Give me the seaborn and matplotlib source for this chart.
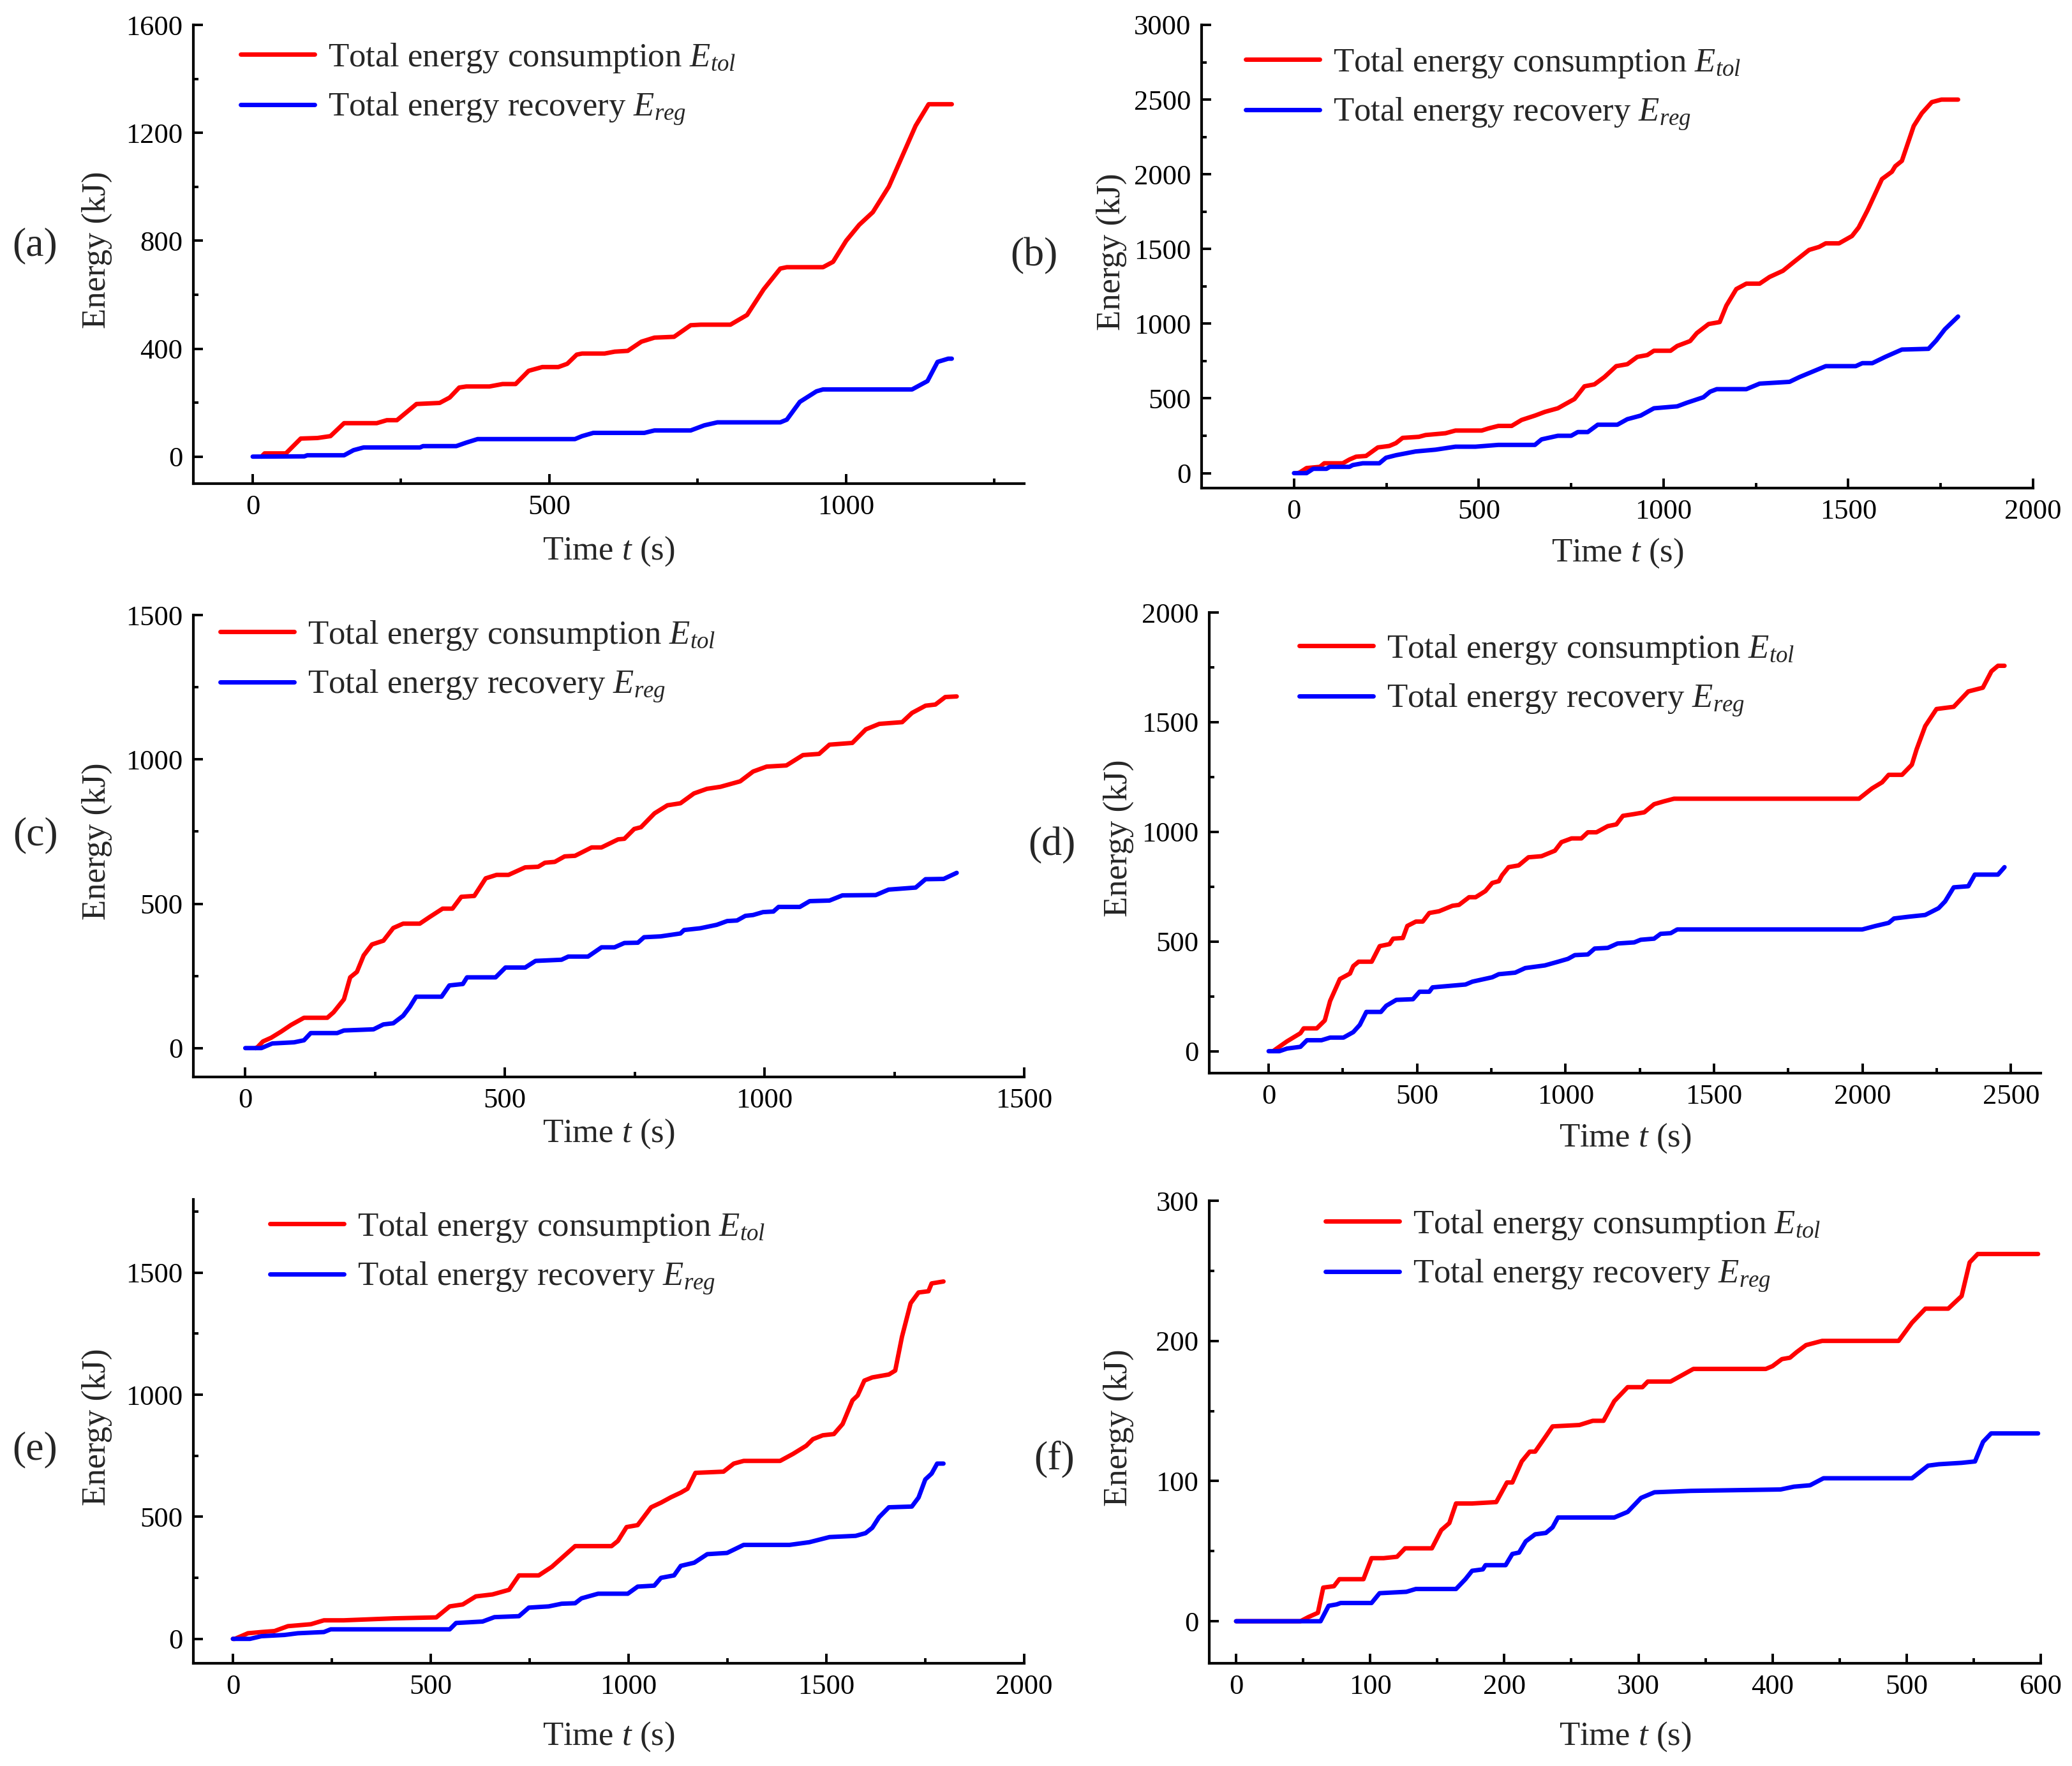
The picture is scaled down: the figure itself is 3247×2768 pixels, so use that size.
import matplotlib
matplotlib.use("Agg")
import matplotlib.pyplot as plt
from matplotlib.ticker import MultipleLocator
import seaborn as sns
import pandas as pd

# ---------------- data ----------------
# (a)
t_a_tol = [15, 20, 56, 81, 109, 131, 154, 209, 226, 243, 276, 315, 332, 348, 360, 399, 421, 443, 465, 488, 515, 530, 546, 555, 593, 610, 632, 655, 677, 710, 738, 755, 805, 833, 861, 889, 900, 961, 978, 1000, 1022, 1045, 1072, 1117, 1139, 1178]
e_a_tol = [0, 12, 12, 67, 69, 76, 124, 124, 135, 135, 195, 199, 219, 256, 260, 260, 269, 269, 318, 332, 332, 344, 378, 382, 382, 389, 392, 426, 441, 444, 487, 489, 489, 525, 620, 697, 702, 702, 722, 800, 859, 906, 1001, 1226, 1306, 1306]
t_a_reg = [0, 87, 92, 154, 170, 187, 282, 287, 343, 360, 379, 543, 555, 574, 660, 677, 738, 761, 783, 889, 900, 922, 950, 961, 1111, 1137, 1154, 1172, 1178]
e_a_reg = [0, 1, 5, 5, 24, 34, 34, 39, 39, 52, 65, 65, 76, 88, 88, 97, 97, 116, 127, 127, 137, 203, 242, 249, 249, 280, 351, 363, 363]

# (b)
t_b_tol = [10, 16, 34, 70, 82, 132, 150, 168, 195, 227, 258, 276, 294, 338, 356, 410, 437, 508, 526, 553, 589, 616, 652, 679, 714, 732, 759, 786, 813, 840, 872, 902, 929, 956, 974, 1019, 1037, 1072, 1090, 1122, 1152, 1170, 1197, 1224, 1260, 1287, 1323, 1350, 1394, 1421, 1439, 1475, 1510, 1528, 1552, 1591, 1618, 1627, 1645, 1677, 1699, 1726, 1752, 1797]
e_b_tol = [0, 5, 34, 42, 66, 66, 91, 110, 115, 172, 182, 201, 236, 243, 255, 267, 285, 285, 299, 316, 316, 356, 385, 410, 434, 459, 496, 581, 594, 643, 716, 729, 778, 790, 819, 819, 851, 884, 937, 998, 1011, 1121, 1232, 1268, 1268, 1313, 1354, 1408, 1494, 1514, 1538, 1538, 1587, 1644, 1759, 1968, 2017, 2054, 2090, 2323, 2409, 2483, 2500, 2500]
t_b_reg = [0, 34, 52, 88, 97, 150, 159, 186, 231, 249, 276, 329, 383, 437, 491, 553, 652, 670, 714, 750, 768, 795, 822, 875, 902, 938, 974, 1037, 1063, 1108, 1126, 1144, 1224, 1260, 1341, 1368, 1404, 1439, 1520, 1538, 1565, 1600, 1645, 1717, 1738, 1761, 1797]
e_b_reg = [0, 0, 29, 29, 42, 42, 54, 66, 66, 103, 120, 145, 157, 177, 177, 189, 189, 226, 250, 250, 275, 275, 324, 324, 361, 385, 434, 447, 471, 508, 545, 562, 562, 599, 611, 643, 680, 716, 716, 736, 736, 778, 827, 832, 888, 962, 1048]

# (c)
t_c_tol = [20, 24, 34, 50, 69, 88, 113, 158, 170, 190, 202, 215, 228, 244, 266, 285, 304, 336, 355, 380, 399, 416, 441, 463, 484, 507, 539, 564, 577, 596, 615, 635, 667, 686, 718, 730, 749, 762, 788, 813, 838, 864, 889, 915, 953, 978, 1004, 1042, 1074, 1105, 1125, 1169, 1195, 1221, 1265, 1284, 1310, 1329, 1348, 1370]
e_c_tol = [0, 4, 23, 36, 57, 80, 105, 105, 124, 169, 245, 264, 321, 359, 372, 416, 431, 431, 454, 483, 483, 524, 527, 588, 600, 600, 626, 628, 642, 645, 664, 666, 695, 695, 723, 725, 759, 765, 813, 841, 848, 882, 898, 905, 924, 958, 975, 979, 1015, 1019, 1051, 1057, 1104, 1123, 1129, 1161, 1186, 1190, 1216, 1218]
t_c_reg = [0, 31, 52, 94, 113, 126, 177, 190, 247, 266, 285, 304, 317, 329, 378, 393, 419, 427, 482, 501, 539, 559, 609, 622, 660, 686, 711, 730, 756, 768, 800, 838, 845, 876, 908, 928, 947, 963, 978, 997, 1017, 1027, 1068, 1087, 1125, 1150, 1214, 1239, 1291, 1310, 1345, 1370]
e_c_reg = [0, 0, 16, 20, 27, 52, 52, 61, 65, 82, 86, 112, 143, 178, 178, 217, 222, 245, 245, 279, 279, 302, 306, 317, 317, 349, 349, 364, 365, 384, 387, 397, 409, 415, 427, 440, 442, 458, 461, 471, 473, 489, 489, 509, 511, 529, 530, 549, 556, 585, 586, 607]

# (d)
t_d_tol = [15, 22, 62, 107, 118, 162, 189, 207, 240, 274, 285, 303, 347, 374, 407, 419, 452, 467, 496, 519, 541, 574, 619, 641, 675, 697, 730, 753, 775, 786, 808, 842, 875, 919, 964, 986, 1020, 1053, 1075, 1104, 1142, 1171, 1193, 1231, 1265, 1298, 1331, 1365, 1988, 2032, 2066, 2088, 2133, 2166, 2182, 2211, 2249, 2307, 2356, 2405, 2434, 2456, 2478]
e_d_tol = [0, 7, 45, 82, 104, 104, 140, 229, 329, 354, 388, 408, 408, 479, 488, 513, 516, 571, 591, 591, 630, 638, 663, 667, 702, 702, 730, 767, 775, 802, 839, 847, 884, 889, 914, 953, 970, 970, 998, 998, 1026, 1034, 1073, 1081, 1089, 1126, 1139, 1151, 1151, 1198, 1226, 1260, 1260, 1306, 1376, 1482, 1560, 1570, 1640, 1657, 1732, 1757, 1757]
t_d_reg = [0, 36, 62, 107, 129, 178, 207, 252, 285, 307, 329, 378, 396, 430, 486, 508, 541, 552, 663, 686, 753, 775, 830, 864, 930, 975, 1008, 1031, 1075, 1098, 1142, 1175, 1231, 1253, 1298, 1320, 1354, 1376, 1999, 2044, 2088, 2106, 2155, 2211, 2256, 2278, 2307, 2356, 2378, 2456, 2478]
e_d_reg = [0, 0, 12, 20, 50, 50, 62, 62, 87, 120, 179, 179, 207, 234, 237, 271, 271, 291, 304, 317, 337, 351, 358, 379, 391, 408, 421, 438, 441, 468, 471, 491, 496, 508, 513, 535, 538, 555, 555, 571, 585, 605, 613, 621, 652, 683, 747, 752, 805, 805, 839]

# (e)
t_e_tol = [0, 5, 38, 72, 105, 139, 197, 230, 280, 406, 514, 548, 581, 614, 656, 698, 723, 773, 806, 840, 865, 957, 973, 995, 1023, 1057, 1082, 1107, 1132, 1149, 1169, 1240, 1266, 1291, 1383, 1416, 1449, 1466, 1491, 1519, 1541, 1566, 1579, 1596, 1616, 1658, 1674, 1691, 1713, 1733, 1758, 1766, 1796]
e_e_tol = [0, 0, 23, 28, 32, 52, 60, 76, 76, 84, 88, 133, 141, 174, 182, 201, 260, 260, 295, 344, 380, 380, 401, 458, 466, 539, 558, 580, 599, 615, 680, 685, 718, 729, 729, 758, 791, 818, 834, 839, 880, 977, 997, 1058, 1071, 1083, 1099, 1237, 1375, 1419, 1424, 1456, 1464]
t_e_reg = [0, 43, 72, 130, 164, 230, 247, 548, 564, 631, 661, 723, 748, 798, 831, 865, 881, 923, 998, 1023, 1065, 1082, 1115, 1132, 1166, 1199, 1249, 1291, 1407, 1457, 1508, 1574, 1599, 1616, 1633, 1658, 1716, 1733, 1750, 1766, 1780, 1796]
e_e_reg = [0, 0, 11, 16, 23, 28, 39, 39, 65, 71, 89, 93, 128, 133, 144, 146, 166, 185, 185, 214, 218, 250, 260, 299, 312, 347, 352, 385, 385, 396, 417, 422, 433, 455, 498, 539, 542, 579, 653, 677, 718, 718]

# (f)
t_f_tol = [0, 48, 54, 61, 65, 73, 77, 95, 101, 110, 120, 126, 146, 153, 159, 164, 176, 194, 202, 206, 213, 219, 223, 231, 236, 256, 266, 274, 282, 292, 303, 307, 324, 341, 395, 400, 407, 413, 418, 425, 437, 494, 504, 514, 531, 541, 547, 553, 598]
e_f_tol = [0, 0, 3, 6, 24, 25, 30, 30, 45, 45, 46, 52, 52, 65, 70, 84, 84, 85, 99, 99, 114, 121, 121, 132, 139, 140, 143, 143, 157, 167, 167, 171, 171, 180, 180, 182, 187, 188, 192, 197, 200, 200, 213, 223, 223, 232, 256, 262, 262]
t_f_reg = [0, 63, 69, 75, 78, 101, 107, 127, 134, 164, 171, 176, 184, 186, 201, 206, 211, 216, 223, 231, 236, 240, 282, 292, 302, 312, 339, 406, 416, 428, 438, 504, 516, 524, 541, 551, 557, 563, 598]
e_f_reg = [0, 0, 11, 12, 13, 13, 20, 21, 23, 23, 30, 36, 37, 40, 40, 48, 49, 57, 62, 63, 67, 74, 74, 78, 88, 92, 93, 94, 96, 97, 102, 102, 111, 112, 113, 114, 128, 134, 134]

panel_names = ["(a)", "(b)", "(c)", "(d)", "(e)", "(f)"]
label_tol = "Total energy consumption $E_{tol}$"
label_reg = "Total energy recovery $E_{reg}$"
x_label = "Time $t$ (s)"
y_label = "Energy (kJ)"

series = {
    "(a)": (t_a_tol, e_a_tol, t_a_reg, e_a_reg),
    "(b)": (t_b_tol, e_b_tol, t_b_reg, e_b_reg),
    "(c)": (t_c_tol, e_c_tol, t_c_reg, e_c_reg),
    "(d)": (t_d_tol, e_d_tol, t_d_reg, e_d_reg),
    "(e)": (t_e_tol, e_e_tol, t_e_reg, e_e_reg),
    "(f)": (t_f_tol, e_f_tol, t_f_reg, e_f_reg),
}

# ---------------- style / layout ----------------
sns.set_style("ticks")
plt.rcParams["font.family"] = ["Liberation Serif", "DejaVu Serif"]
plt.rcParams["mathtext.fontset"] = "custom"
plt.rcParams["mathtext.rm"] = "Liberation Serif"
plt.rcParams["mathtext.it"] = "Liberation Serif:italic"

W, H = 3248, 2768
DPI = 200
fig = plt.figure(figsize=(W / DPI, H / DPI), dpi=DPI)

# axes boxes in pixels: left, top, right, bottom
boxes = {
    "(a)": (303, 39, 1605, 758),
    "(b)": (1883, 39, 3186, 765),
    "(c)": (303, 964, 1605, 1688),
    "(d)": (1895, 960, 3198, 1682),
    "(e)": (303, 1880, 1605, 2607),
    "(f)": (1895, 1882, 3198, 2607),
}
limits = {
    "(a)": ((-100, 1300), (-100, 1600), 500, 250, 400, 200),
    "(b)": ((-250, 2000), (-100, 3000), 500, 250, 500, 250),
    "(c)": ((-100, 1500), (-100, 1500), 500, 250, 500, 250),
    "(d)": ((-200, 2600), (-100, 2000), 500, 250, 500, 250),
    "(e)": ((-100, 2000), (-100, 1800), 500, 250, 500, 250),
    "(f)": ((-20, 600), (-30, 300), 100, 50, 100, 50),
}
legend_pos = {  # handle start x, middle between rows y (pixels)
    "(a)": (377, 132),
    "(b)": (1952, 140),
    "(c)": (345, 1037),
    "(d)": (2036, 1059),
    "(e)": (423, 1965),
    "(f)": (2077, 1961),
}
letter_pos = {
    "(a)": (55, 385), "(b)": (1620, 401), "(c)": (56, 1309),
    "(d)": (1648, 1325), "(e)": (55, 2272), "(f)": (1652, 2287),
}
xlabel_center = {"(a)": 869, "(b)": 872, "(c)": 1782, "(d)": 1789, "(e)": 2727, "(f)": 2727}
ylabel_right = {"(a)": 176, "(b)": 1766, "(c)": 176, "(d)": 1777, "(e)": 176, "(f)": 1777}

LW = 2.5
for name in panel_names:
    l, t, r, b = boxes[name]
    ax = fig.add_axes([l / W, 1 - b / H, (r - l) / W, (b - t) / H])
    t1, e1, t2, e2 = series[name]
    df1 = pd.DataFrame({"t": t1, "E": e1})
    df2 = pd.DataFrame({"t": t2, "E": e2})
    sns.lineplot(data=df1, x="t", y="E", ax=ax, color="#ff0000", lw=LW,
                 label=label_tol, estimator=None, sort=False)
    sns.lineplot(data=df2, x="t", y="E", ax=ax, color="#0000ff", lw=LW,
                 label=label_reg, estimator=None, sort=False)
    (xl, yl, xmaj, xmin, ymaj, ymin) = limits[name]
    ax.set_xlim(*xl)
    ax.set_ylim(*yl)
    ax.xaxis.set_major_locator(MultipleLocator(xmaj))
    ax.xaxis.set_minor_locator(MultipleLocator(xmin))
    ax.yaxis.set_major_locator(MultipleLocator(ymaj))
    ax.yaxis.set_minor_locator(MultipleLocator(ymin))
    for s in ["top", "right"]:
        ax.spines[s].set_visible(False)
    for s in ["left", "bottom"]:
        ax.spines[s].set_linewidth(1.5)
        ax.spines[s].set_color("black")
    ax.tick_params(which="major", direction="in", length=5.5, width=1.4,
                   labelsize=16, pad=6, colors="black")
    ax.tick_params(which="minor", direction="in", length=2.8, width=1.4, colors="black")

    ax.set_xlabel(x_label, fontsize=19)
    ax.set_ylabel(y_label, fontsize=19)
    hpx = b - t
    wpx = r - l
    ax.xaxis.set_label_coords(0.5, -(xlabel_center[name] - 31 - b) / hpx)
    ax.yaxis.set_label_coords((ylabel_right[name] - l) / wpx, 0.51)

    hx, hy = legend_pos[name]
    ax.legend(loc="center left", bbox_to_anchor=(hx / W, 1 - hy / H),
              bbox_transform=fig.transFigure, frameon=False, fontsize=19,
              handlelength=2.2, handletextpad=0.4, borderpad=0,
              borderaxespad=0, labelspacing=0.5)
    lx, ly = letter_pos[name]
    fig.text(lx / W, 1 - ly / H, name, fontsize=23, ha="center", va="center")

fig.savefig("out.png", dpi=DPI)
